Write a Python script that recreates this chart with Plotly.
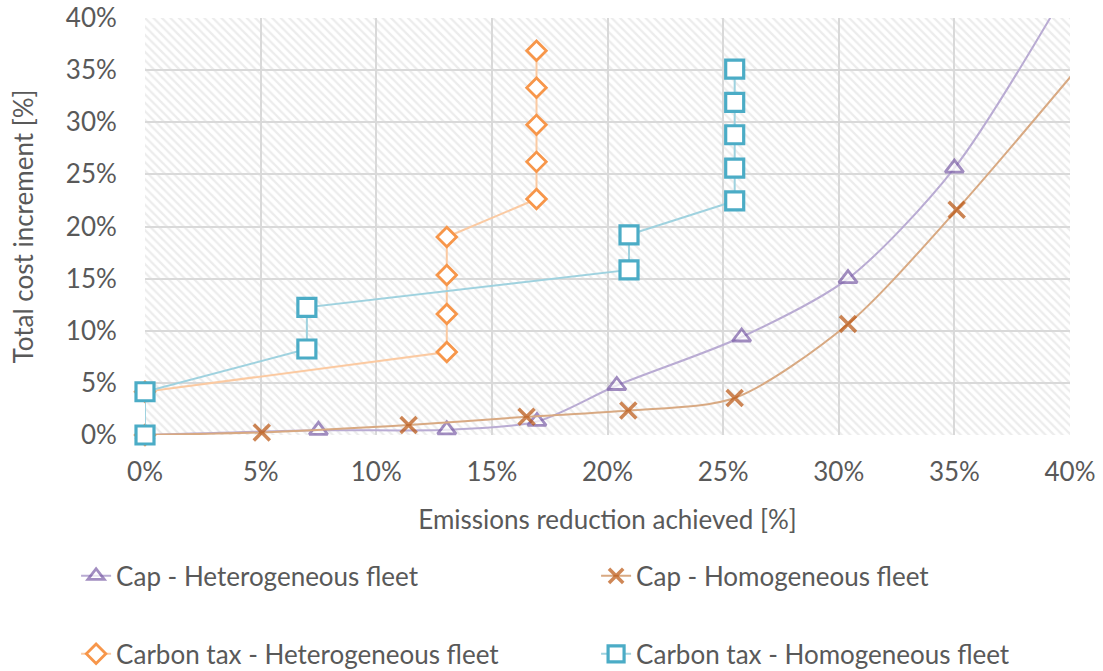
import plotly.graph_objects as go

# ---- data (percent values) ----
cap_het_x = [0, 7.5, 13.05, 16.95, 20.4, 25.8, 30.4, 35.0, 40.2]
cap_het_y = [0, 0.45, 0.5, 1.3, 4.75, 9.4, 15.0, 25.6, 44.0]

cap_hom_x = [0, 5.05, 11.4, 16.5, 20.9, 25.5, 30.4, 35.1, 42.0]
cap_hom_y = [0, 0.25, 0.95, 1.75, 2.35, 3.55, 10.65, 21.6, 39.6]

tax_het_x = [0, 0, 13.05, 13.05, 13.05, 13.05, 16.93, 16.93, 16.93, 16.93, 16.93]
tax_het_y = [0, 4.15, 7.96, 11.6, 15.35, 18.99, 22.64, 26.2, 29.75, 33.3, 36.85]

tax_hom_x = [0, 0, 7.0, 7.0, 20.93, 20.93, 25.5, 25.5, 25.5, 25.5, 25.5]
tax_hom_y = [0, 4.15, 8.25, 12.25, 15.83, 19.2, 22.45, 25.6, 28.8, 31.9, 35.1]

x_ticks = [0, 5, 10, 15, 20, 25, 30, 35, 40]
y_ticks = [0, 5, 10, 15, 20, 25, 30, 35, 40]
x_tick_labels = [f"{v}%" for v in x_ticks]
y_tick_labels = [f"{v}%" for v in y_ticks]
X_RANGE = [0, 40]
Y_RANGE = [0, 40]

names = ["Cap - Heterogeneous fleet", "Cap - Homogeneous fleet",
         "Carbon tax - Heterogeneous fleet", "Carbon tax - Homogeneous fleet"]

FONT = "Lato"
FS = 26
TXT = "#595959"
GRID = "#d9d9d9"


def sizes(xs, ys, s):
    # hide markers of points that lie outside the visible axis ranges
    return [s if (X_RANGE[0] <= x <= X_RANGE[1] and Y_RANGE[0] <= y <= Y_RANGE[1]) else 0
            for x, y in zip(xs, ys)]


fig = go.Figure()

# hatched plot-area background
fig.add_trace(go.Scatter(
    x=[X_RANGE[0], X_RANGE[1], X_RANGE[1], X_RANGE[0], X_RANGE[0]],
    y=[Y_RANGE[0], Y_RANGE[0], Y_RANGE[1], Y_RANGE[1], Y_RANGE[0]],
    mode="lines", fill="toself", line=dict(width=0, color="rgba(0,0,0,0)"),
    fillcolor="rgba(0,0,0,0)",
    fillpattern=dict(shape="\\", size=6, solidity=0.38,
                     fgcolor="#d9d9d9", bgcolor="rgba(255,255,255,0)"),
    showlegend=False, hoverinfo="skip"))

fig.add_trace(go.Scatter(
    x=cap_het_x, y=cap_het_y, name=names[0], mode="lines+markers",
    line=dict(color="#b9abd3", width=2, shape="spline", smoothing=0.8),
    marker=dict(symbol="triangle-up", size=sizes(cap_het_x, cap_het_y, 16), color="white",
                line=dict(color="#7b5ea7", width=2.8)),
    cliponaxis=False, legend="legend"))

fig.add_trace(go.Scatter(
    x=cap_hom_x, y=cap_hom_y, name=names[1], mode="lines+markers",
    line=dict(color="#d8a982", width=2, shape="spline", smoothing=0.8),
    marker=dict(symbol="x-thin", size=sizes(cap_hom_x, cap_hom_y, 16), color="#bb5510",
                line=dict(color="#bb5510", width=3.5)),
    cliponaxis=False, legend="legend"))

fig.add_trace(go.Scatter(
    x=tax_het_x, y=tax_het_y, name=names[2], mode="lines+markers",
    line=dict(color="#fbcaa2", width=2),
    marker=dict(symbol="diamond", size=15, color="white",
                line=dict(color="#f7964a", width=2.8)),
    cliponaxis=False, legend="legend2"))

fig.add_trace(go.Scatter(
    x=tax_hom_x, y=tax_hom_y, name=names[3], mode="lines+markers",
    line=dict(color="#9fd2df", width=2),
    marker=dict(symbol="square", size=18, color="white",
                line=dict(color="#4bacc6", width=3.2)),
    cliponaxis=False, legend="legend2"))

axis_common = dict(showgrid=True, gridcolor=GRID, gridwidth=2,
                   zeroline=False, showline=False,
                   ticks="outside", tickcolor="rgba(0,0,0,0)",
                   tickfont=dict(family=FONT, size=FS, color=TXT))

fig.update_xaxes(range=X_RANGE, tickvals=x_ticks, ticktext=x_tick_labels,
                 ticklen=14,
                 title=dict(text="Emissions reduction achieved [%]", standoff=24,
                            font=dict(family=FONT, size=FS, color=TXT)),
                 **axis_common)
fig.update_yaxes(range=Y_RANGE, tickvals=y_ticks, ticktext=y_tick_labels,
                 ticklen=22,
                 title=dict(text="Total cost increment [%]", standoff=24,
                            font=dict(family=FONT, size=FS, color=TXT)),
                 **axis_common)

leg_common = dict(orientation="h", xanchor="left", yanchor="middle",
                  font=dict(family=FONT, size=FS, color=TXT),
                  bgcolor="rgba(0,0,0,0)", entrywidthmode="pixels",
                  entrywidth=475)

fig.update_layout(
    width=1103, height=671,
    margin=dict(l=145, r=33, t=18, b=236, autoexpand=False),
    plot_bgcolor="white", paper_bgcolor="white",
    legend=dict(x=-0.0745, y=-0.338, **leg_common),
    legend2=dict(x=-0.0745, y=-0.525, **leg_common),
)

fig.write_html("out.html", config={"displayModeBar": False},
               post_script="document.body.style.margin='0px';document.body.style.overflow='hidden';")
